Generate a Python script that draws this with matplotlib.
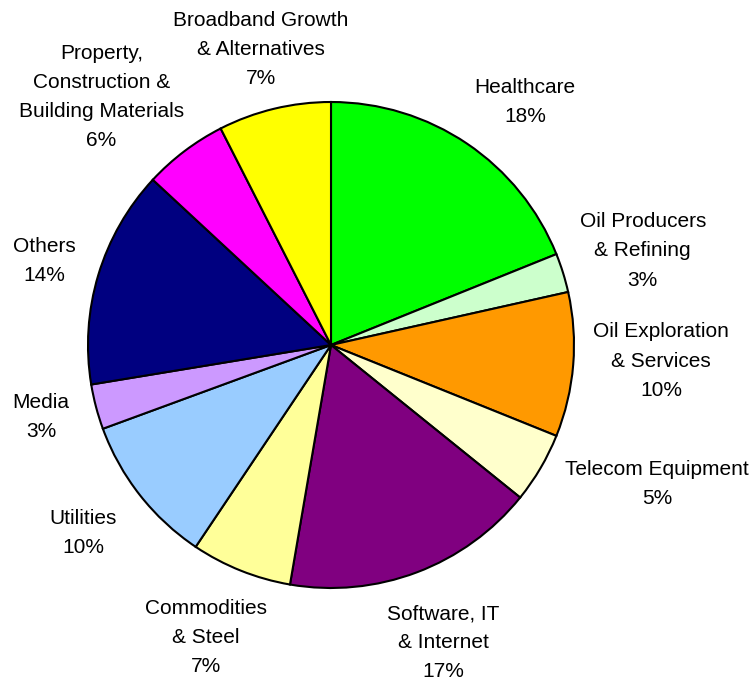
import numpy as np
import matplotlib.pyplot as plt

# sector weights, clockwise from 12 o'clock
sectors = ['Healthcare', 'Oil Producers\n& Refining', 'Oil Exploration\n& Services',
           'Telecom Equipment', 'Software, IT\n& Internet', 'Commodities\n& Steel',
           'Utilities', 'Media', 'Others', 'Property,\nConstruction &\nBuilding Materials',
           'Broadband Growth\n& Alternatives']
weights = [18.9, 2.6, 9.6, 4.7, 16.9, 6.7, 10.0, 3.0, 14.5, 5.6, 7.5]
pct_labels = ['18%', '3%', '10%', '5%', '17%', '7%', '10%', '3%', '14%', '6%', '7%']

colors = ['#00FF00', '#CCFFCC', '#FF9900', '#FFFFCC', '#800080', '#FFFF99',
          '#99CCFF', '#CC99FF', '#000080', '#FF00FF', '#FFFF00']

# label placement: distance from centre (in radii) and angle nudge (deg)
label_dist = [1.28, 1.34, 1.36, 1.46, 1.31, 1.31, 1.28, 1.23, 1.23, 1.39, 1.25]
label_nudge = [-4.6, -0.5, 1.9, 7.3, 0.0, -1.4, -0.9, -0.8, 0.5, 5.7, -0.2]

fig = plt.figure(figsize=(7.56, 6.87), dpi=100)
ax = fig.add_axes([0, 0, 1, 1])

wedges, _ = ax.pie(weights, colors=colors, startangle=90, counterclock=False,
                   wedgeprops=dict(edgecolor='black', linewidth=1.5))

for w, name, pct, d, nudge in zip(wedges, sectors, pct_labels, label_dist, label_nudge):
    mid = np.deg2rad((w.theta1 + w.theta2) / 2 + nudge)
    ax.text(d * np.cos(mid), d * np.sin(mid), name + '\n' + pct,
            ha='center', va='center', fontsize=15, family='Liberation Sans',
            linespacing=1.67)

# place pie centre at ~(331, 345) px with radius ~243 px
r = 243.0
ax.set_xlim(-331 / r, (756 - 331) / r)
ax.set_ylim(-(687 - 345) / r, 345 / r)
ax.set_aspect('equal')
ax.axis('off')

fig.savefig('out.png', dpi=100)
